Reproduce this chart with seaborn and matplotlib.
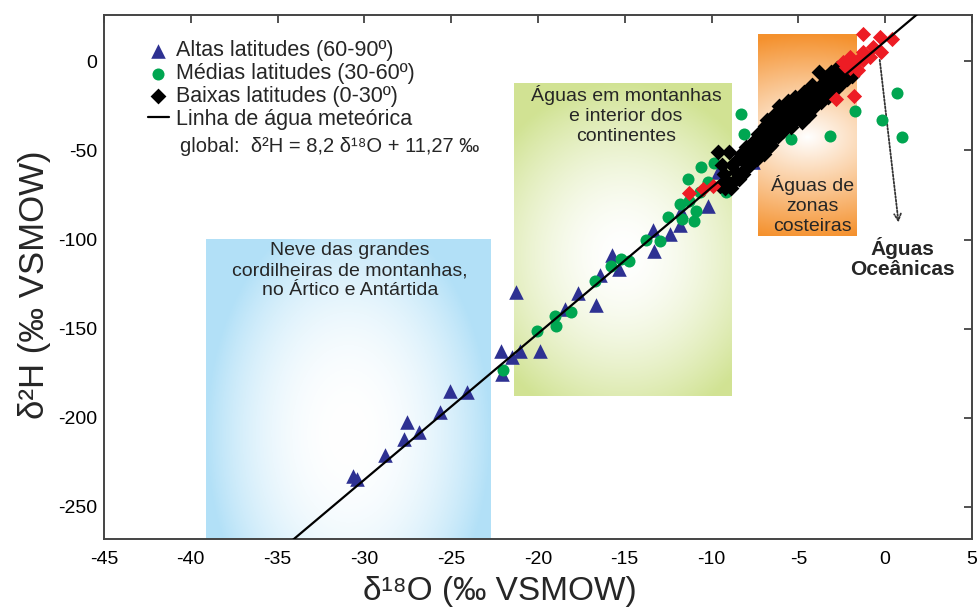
import numpy as np
import matplotlib
matplotlib.use("Agg")
import matplotlib.pyplot as plt
import seaborn as sns

# --- data ---
alta_x = [-30.65, -30.45, -28.82, -27.71, -27.52, -26.87, -25.66, -25.08, -24.08, -22.14,
          -21.05, -21.47, -22.05, -21.24, -19.9, -18.46, -17.69, -16.68, -16.45, -15.72,
          -15.34, -13.38, -13.32, -12.42, -11.80, -11.75, -10.21, -9.63, -9.35, -7.62]
alta_y = [-232.6, -234.4, -221, -212, -202.6, -207.9, -196.5, -184.8, -185.8, -162.4,
          -162.4, -166, -175.3, -129.6, -162.4, -138.9, -130.2, -136.5, -119.7, -108.4,
          -116.5, -94.9, -106.2, -96.8, -91.6, -83.7, -80.9, -62.2, -65.9, -56.6]

media_x = [-22.01, -20.04, -19.04, -18.94, -18.08, -16.73, -15.78, -15.2, -14.76, -13.76,
           -12.99, -12.51, -11.84, -11.69, -11.37, -11.27, -10.88, -11.03, -10.6, -10.69,
           -10.21, -9.83, -9.16, -9.35, -8.33, -8.14, -5.45, -3.2, -1.73, -0.17, 0.67, 0.96]
media_y = [-173.2, -151.1, -142.7, -148.3, -140.8, -123, -114.6, -110.9, -111.8, -100.2,
           -101, -87.5, -80, -88.4, -65.9, -78.1, -83.7, -89.3, -59.4, -73.4,
           -67.8, -57.1, -73.4, -70.6, -29.4, -40.6, -43.4, -42.1, -28.1, -32.8, -17.8, -42.5]

baixa_x = [-9.6, -9.0, -9.5, -9.3, -9.1, -8.9, -8.8, -8.6, -8.5, -8.4, -8.3, -8.1, -8.0, -7.9,
           -7.8, -7.6, -7.5, -7.4, -7.3, -7.2, -7.0, -7.0, -6.9, -6.8, -6.7, -6.6, -6.5, -6.4,
           -6.3, -6.2, -6.1, -6.0, -5.9, -5.8, -5.7, -5.6, -5.5, -5.4, -5.3, -5.2, -5.1, -5.0,
           -4.9, -4.8, -4.7, -4.6, -4.5, -4.4, -4.3, -4.2, -4.1, -4.0, -3.9, -3.8, -3.7, -3.6,
           -3.5, -3.4, -3.3, -3.2, -3.1, -3.0, -2.9, -2.8, -2.7, -2.5, -2.4, -2.2, -2.0, -1.9,
           -9.4, -9.2, -8.7, -8.2, -7.7, -7.6, -7.1, -6.8, -6.6, -6.4, -6.2, -5.9, -5.6, -5.4,
           -5.1, -4.9, -4.6, -4.4, -4.2, -3.9, -3.6, -3.4, -3.2, -2.9, -2.6, -2.3, -6.9, -7.4,
           -8.0, -5.3]
baixa_y = [-51, -51, -70, -63, -67, -71, -58, -62, -55, -66, -52, -57, -48, -53,
           -58, -45, -51, -55, -41, -47, -38, -52, -44, -33, -48, -39, -44, -30,
           -36, -42, -25, -32, -39, -28, -35, -22, -30, -37, -25, -20, -32, -27,
           -22, -34, -17, -29, -24, -30, -19, -13, -25, -21, -16, -6, -23, -12,
           -18, -9, -20, -14, -6, -11, -16, -4, -9, -12, -6, -10, -3, -8,
           -58, -71, -67, -63, -50, -56, -45, -41, -47, -38, -34, -31, -34, -29,
           -24, -30, -19, -22, -27, -20, -16, -13, -8, -10, -7, -3, -36, -47,
           -60, -34]

costa_x = [-11.27, -10.5, -9.93, -2.82, -1.8, -1.25, -0.29, 0.40, -0.23, -0.71, -1.29, -2.05,
           -2.44, -2.25, -1.77, -1.29, -0.9, -1.58, -2.0, -1.5]
costa_y = [-74, -71.5, -69.7, -21, -19.7, 15.6, 13.7, 12.8, 5.2, 8.0, 5.2, 2.4,
           -0.4, -3.2, -1.3, 0.6, 2.4, -5.1, -4.0, 1.5]

# global meteoric water line: d2H = 8.2 d18O + 11.27
gmwl_slope, gmwl_int = 8.2, 11.27
gmwl_x = np.array([-45, 5])

sns.set_theme(style="white")
plt.rcParams['font.family'] = ['Liberation Sans', 'DejaVu Sans']
plt.rcParams['axes.unicode_minus'] = False

fig = plt.figure(figsize=(9.78, 6.10), dpi=100)
ax = fig.add_axes([0.1063, 0.1164, 0.8875, 0.859])


def grad_box(x0, x1, y0, y1, rgb, wu, vc, vs, pw):
    U, V = np.meshgrid(np.linspace(-1, 1, 200), np.linspace(0, 1, 200))
    t = np.clip(np.sqrt(wu * U**2 + ((V - vc) / vs)**2), 0, 1) ** pw
    img = np.ones((200, 200, 3)) * (1 - t[..., None]) + np.array(rgb) * t[..., None]
    ax.imshow(img, extent=(x0, x1, y0, y1), origin='lower', aspect='auto', zorder=0)


grad_box(-39.1, -22.7, -268, -100, (0.70, 0.88, 0.97), 1.0, 0.35, 0.75, 2.2)
grad_box(-21.4, -8.85, -187.6, -12.4, (0.82, 0.89, 0.58), 0.5, 0.45, 0.55, 1.7)
grad_box(-7.3, -1.6, -97.8, 15.2, (0.96, 0.57, 0.18), 0.1, 0.49, 0.51, 1.0)

sns.scatterplot(x=alta_x, y=alta_y, marker='^', color='#2e3192', s=110, linewidth=0,
                label='Altas latitudes (60-90º)', ax=ax, zorder=3)
sns.scatterplot(x=media_x, y=media_y, marker='o', color='#00a651', s=75, linewidth=0,
                label='Médias latitudes (30-60º)', ax=ax, zorder=4)
sns.scatterplot(x=baixa_x, y=baixa_y, marker='D', color='black', s=65, linewidth=0,
                label='Baixas latitudes (0-30º)', ax=ax, zorder=5)
sns.scatterplot(x=costa_x, y=costa_y, marker='D', color='#ed1c24', s=60, linewidth=0,
                label='_nolegend_', ax=ax, zorder=6)
sns.lineplot(x=gmwl_x, y=gmwl_slope * gmwl_x + gmwl_int, color='black', lw=1.6,
             label='Linha de água meteórica', ax=ax, zorder=7)

ax.set_xlim(-45, 5)
ax.set_ylim(-268, 26)
ax.set_xticks(np.arange(-45, 6, 5))
ax.set_yticks(np.arange(-250, 1, 50))
ax.tick_params(direction='in', top=True, right=True, length=6, width=1.2,
               labelsize=14, colors='#333333', labelcolor='black', pad=5)
ax.tick_params(axis='x', pad=9)
for sp in ax.spines.values():
    sp.set_color('#444444')
    sp.set_linewidth(1.4)

ax.set_xlabel('δ¹⁸O (‰ VSMOW)', fontsize=24)
ax.set_ylabel('δ²H (‰ VSMOW)', fontsize=25)
ax.xaxis.set_label_coords(0.456, -0.07)
ax.yaxis.set_label_coords(-0.061, 0.485)

h, l = ax.get_legend_handles_labels()
leg = ax.legend(h, l, loc='upper left', bbox_to_anchor=(0.038, 0.972), frameon=False,
                fontsize=15.5, borderpad=0, handlelength=1.0, handletextpad=0.3,
                labelspacing=0.08)
ax.text(-40.6, -47.5, 'global:  δ²H = 8,2 δ¹⁸O + 11,27 ‰', fontsize=14.5, ha='left', va='center')

ax.text(-30.84, -101.5, 'Neve das grandes\ncordilheiras de montanhas,\nno Ártico e Antártida',
        fontsize=14, ha='center', va='top', linespacing=1.22)
ax.text(-14.92, -13.5, 'Águas em montanhas\ne interior dos\ncontinentes',
        fontsize=14, ha='center', va='top', linespacing=1.22)
ax.text(-4.2, -64, 'Águas de\nzonas\ncosteiras',
        fontsize=14, ha='center', va='top', linespacing=1.22)
ax.text(1.0, -98.5, 'Águas\nOceânicas', fontsize=15, fontweight='bold',
        ha='center', va='top', linespacing=1.1)
ax.annotate('', xy=(0.79, -92), xytext=(-0.33, 2.4),
            arrowprops=dict(arrowstyle='->', linestyle=(0, (1, 1)), color='#333333', lw=1.3))

fig.savefig('out.png', dpi=100)
